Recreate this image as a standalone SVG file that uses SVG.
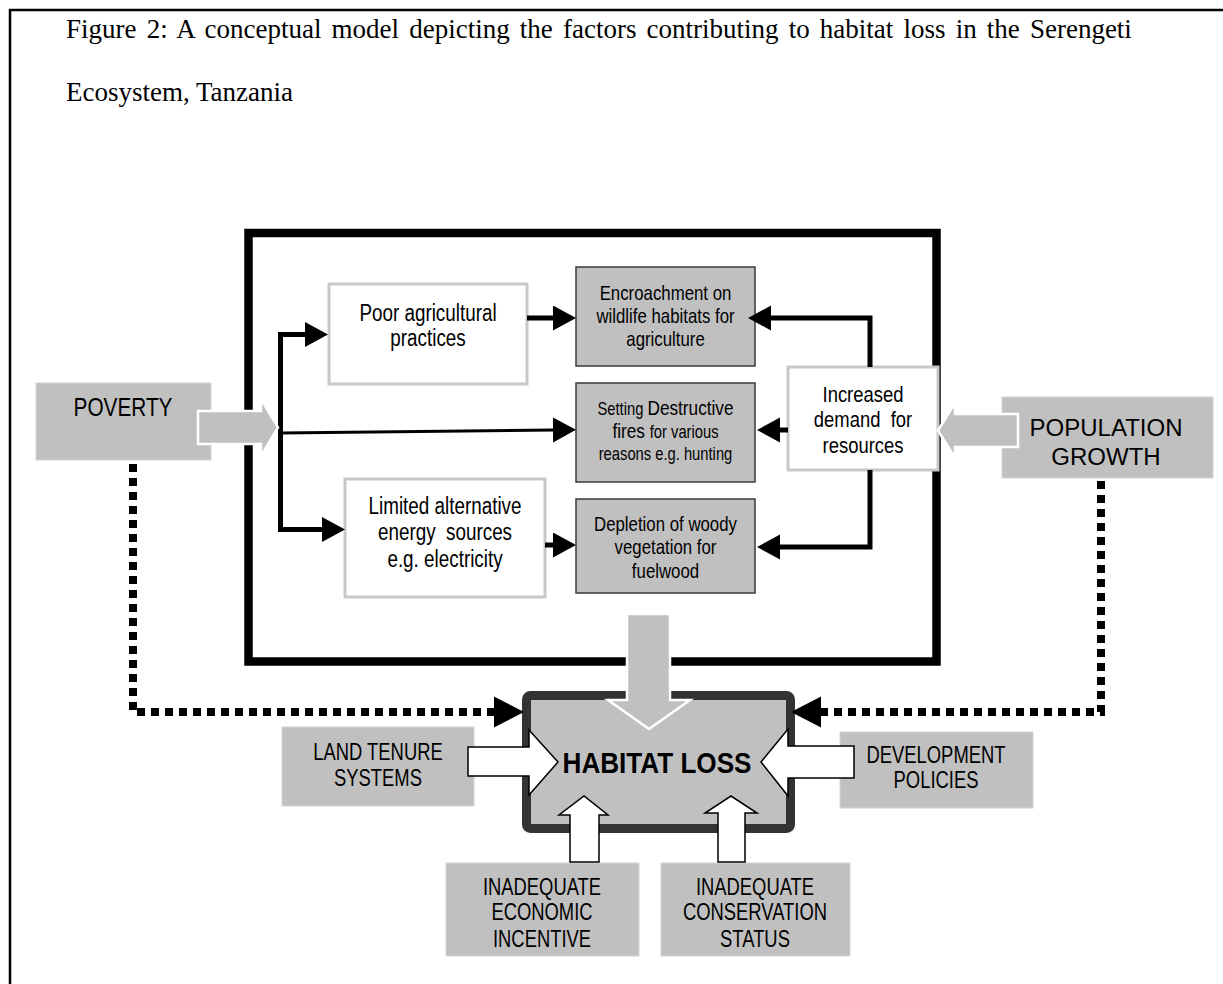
<svg xmlns="http://www.w3.org/2000/svg" width="1223" height="984" viewBox="0 0 1223 984">
<defs>
<style>
.t{font-family:"Liberation Sans",Arial,Helvetica,sans-serif;fill:#000;text-anchor:middle}
.title{font-family:"Liberation Serif","Times New Roman",serif;font-size:27px;fill:#000}
.wbox{fill:#fff;stroke:#c8c8c8;stroke-width:3}
.gbox{fill:#c0c0c0;stroke:#3a3a3a;stroke-width:1.5}
.pbox{fill:#c0c0c0;stroke:#d4d4d4;stroke-width:1}
.conn{fill:none;stroke:#000;stroke-width:5}
.thin{fill:none;stroke:#000;stroke-width:3}
.dot{fill:none;stroke:#000;stroke-width:8;stroke-dasharray:8 6}
.garrow{fill:#c0c0c0;stroke:#fff;stroke-width:2.5}
.warrow{fill:#fff;stroke:#000;stroke-width:1.5}
</style>
<marker id="ah" markerUnits="userSpaceOnUse" markerWidth="24" markerHeight="26" refX="0" refY="12.5" orient="auto-start-reverse"><path d="M0,0 L23,12.5 L0,25 Z" fill="#000"/></marker>
<marker id="dh" markerUnits="userSpaceOnUse" markerWidth="31" markerHeight="32" refX="0" refY="16" orient="auto"><path d="M0,0.5 L30,16 L0,31.5 Z" fill="#000"/></marker>
</defs>
<rect width="1223" height="984" fill="#fff"/>
<g id="page-frame"><path d="M10,984 V10 H1223" fill="none" stroke="#000" stroke-width="2.5"/></g>
<g id="title">
<text class="title" x="66" y="38" word-spacing="3.4">Figure 2: A conceptual model depicting the factors contributing to habitat loss in the Serengeti</text>
<text class="title" x="66" y="101">Ecosystem, Tanzania</text>
</g>
<g id="context-frame"><rect x="248.5" y="233" width="688" height="428.5" fill="none" stroke="#000" stroke-width="8.5"/></g>

<g id="poverty">
<rect class="pbox" x="36" y="383" width="175" height="77"/>
<text class="t" font-size="26" transform="translate(123,416) scale(0.8,1)">POVERTY</text>
</g>
<g id="population-growth">
<rect class="pbox" x="1002" y="397" width="211" height="81"/>
<text class="t" font-size="24.5" transform="translate(1106,0) scale(0.98,1)"><tspan x="0" y="436">POPULATION</tspan><tspan x="0" y="465">GROWTH</tspan></text>
</g>
<g id="poor-agricultural-practices">
<rect class="wbox" x="329" y="284" width="198" height="100"/>
<text class="t" font-size="23" transform="translate(428,0) scale(0.82,1)"><tspan x="0" y="321">Poor agricultural</tspan><tspan x="0" y="346">practices</tspan></text>
</g>
<g id="limited-energy-sources">
<rect class="wbox" x="345" y="479" width="200" height="118"/>
<text class="t" font-size="23" transform="translate(445,0) scale(0.82,1)" xml:space="preserve"><tspan x="0" y="514">Limited alternative</tspan><tspan x="0" y="540">energy  sources</tspan><tspan x="0" y="567">e.g. electricity</tspan></text>
</g>
<g id="encroachment">
<rect class="gbox" x="576" y="267" width="179" height="99"/>
<text class="t" font-size="20.5" transform="translate(665.5,0) scale(0.82,1)"><tspan x="0" y="300">Encroachment on</tspan><tspan x="0" y="323">wildlife habitats for</tspan><tspan x="0" y="346">agriculture</tspan></text>
</g>
<g id="destructive-fires">
<rect class="gbox" x="576" y="383" width="179" height="99"/>
<text class="t" transform="translate(665.5,0) scale(0.82,1)"><tspan x="0" y="415" font-size="18">Setting </tspan><tspan font-size="21">Destructive</tspan><tspan x="0" y="438" font-size="21">fires </tspan><tspan font-size="18">for various</tspan><tspan x="0" y="460" font-size="18">reasons e.g. hunting</tspan></text>
</g>
<g id="depletion-woody-vegetation">
<rect class="gbox" x="576" y="499" width="179" height="94"/>
<text class="t" font-size="20.5" transform="translate(665.5,0) scale(0.82,1)"><tspan x="0" y="531">Depletion of woody</tspan><tspan x="0" y="554">vegetation for</tspan><tspan x="0" y="578">fuelwood</tspan></text>
</g>
<g id="increased-demand">
<rect class="wbox" x="788" y="367" width="150" height="103"/>
<text class="t" font-size="22.5" transform="translate(863,0) scale(0.82,1)" xml:space="preserve"><tspan x="0" y="402">Increased</tspan><tspan x="0" y="427">demand  for</tspan><tspan x="0" y="453">resources</tspan></text>
</g>
<g id="habitat-loss">
<rect x="526.5" y="695.5" width="264" height="133" rx="4" fill="#c0c0c0" stroke="#333" stroke-width="9"/>
<text class="t" font-size="30" font-weight="bold" transform="translate(657,773) scale(0.87,1)">HABITAT LOSS</text>
</g>
<g id="land-tenure">
<rect class="pbox" x="282" y="727" width="192" height="79"/>
<text class="t" font-size="23" transform="translate(378,0) scale(0.8,1)"><tspan x="0" y="760">LAND TENURE</tspan><tspan x="0" y="786">SYSTEMS</tspan></text>
</g>
<g id="development-policies">
<rect class="pbox" x="840" y="732" width="193" height="76"/>
<text class="t" font-size="23" transform="translate(936,0) scale(0.8,1)"><tspan x="0" y="763">DEVELOPMENT</tspan><tspan x="0" y="788">POLICIES</tspan></text>
</g>
<g id="economic-incentive">
<rect class="pbox" x="446" y="863" width="193" height="93"/>
<text class="t" font-size="23" transform="translate(542,0) scale(0.8,1)"><tspan x="0" y="895">INADEQUATE</tspan><tspan x="0" y="920">ECONOMIC</tspan><tspan x="0" y="947">INCENTIVE</tspan></text>
</g>
<g id="conservation-status">
<rect class="pbox" x="661" y="863" width="189" height="93"/>
<text class="t" font-size="23" transform="translate(755,0) scale(0.8,1)"><tspan x="0" y="895">INADEQUATE</tspan><tspan x="0" y="920">CONSERVATION</tspan><tspan x="0" y="947">STATUS</tspan></text>
</g>

<g id="connectors">
<path class="conn" d="M305,334.5 H280.5 V529.5 H322" marker-start="url(#ah)" marker-end="url(#ah)"/>
<path class="thin" d="M281,433 L553,430" marker-end="url(#ah)"/>
<path class="conn" d="M527,318 H553" marker-end="url(#ah)"/>
<path class="conn" d="M545,545 H553" marker-end="url(#ah)"/>
<path class="conn" d="M870,367 V318 H771" marker-end="url(#ah)"/>
<path class="conn" d="M788,430 H780" marker-end="url(#ah)"/>
<path class="conn" d="M870,470 V547 H780" marker-end="url(#ah)"/>
<path class="dot" d="M133,464 V712 H494" marker-end="url(#dh)"/>
<path class="dot" d="M1101,481 V712 H821" marker-end="url(#dh)"/>
<polygon class="garrow" points="198,411 261,411 261,399 278,427.5 261,456 261,444 198,444"/>
<polygon class="garrow" points="1018,414 955,414 955,403 938,430.5 955,458 955,447 1018,447"/>
<polygon class="garrow" points="627,614 670,614 670,700 690,700 649,729 608,700 627,700"/>
<polygon class="warrow" points="468,747 529,747 529,730 558,762 529,795 529,776 468,776"/>
<polygon class="warrow" points="854,746 788,746 788,729 761,762 788,796 788,778 854,778"/>
<polygon class="warrow" points="570,862 570,815 559,815 584,796 608,815 599,815 599,862"/>
<polygon class="warrow" points="718,862 718,813 705,813 731,796 757,813 745,813 745,862"/>
</g>
</svg>
